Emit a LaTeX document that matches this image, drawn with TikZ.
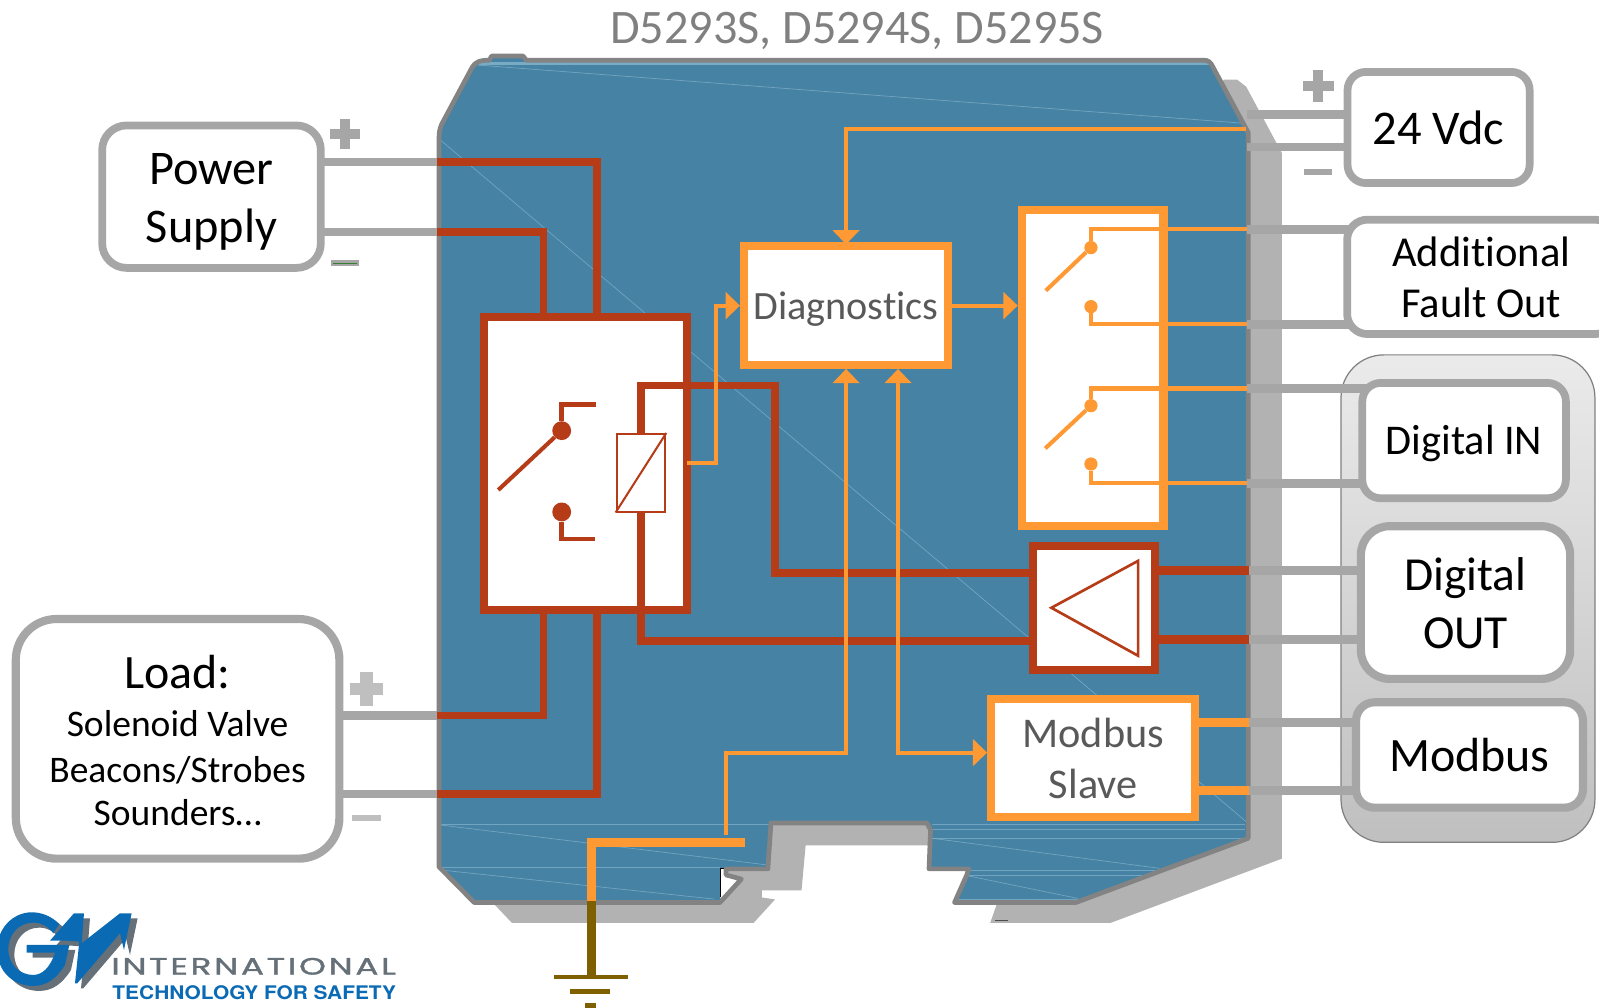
\documentclass[tikz,border=0pt]{standalone}
\usepackage{fontspec}
\usepackage{graphicx}
\setmainfont{Carlito}[Ligatures=NoCommon]
\newfontfamily\logofont[LetterSpace=8,FakeBold=1.2]{Poppins}
\newfontfamily\logobold{TeX Gyre Heros}
\usetikzlibrary{arrows.meta,calc}
\definecolor{bodyblue}{HTML}{4682A3}
\definecolor{bodyedge}{HTML}{838383}
\definecolor{shadowgray}{HTML}{B2B2B2}
\definecolor{wiregray}{HTML}{A6A6A6}
\definecolor{redwire}{HTML}{B53C17}
\definecolor{orangewire}{HTML}{FF9933}
\definecolor{earthbrown}{HTML}{7F6000}
\definecolor{labelgray}{HTML}{595959}
\definecolor{titlegray}{HTML}{808080}
\definecolor{glint}{HTML}{8FBCD4}
\definecolor{logoblue}{HTML}{0A6AB4}
\definecolor{logogray}{HTML}{667078}
\newcommand\boxtext[4]{\raisebox{#3pt}[0pt][0pt]{\fontsize{#1pt}{#2pt}\selectfont\begin{tabular}[t]{@{}c@{}}#4\end{tabular}}}
\newcommand\plusmark[5]{\fill[#3] (#1-#4/2,#2-#5/2) rectangle (#1+#4/2,#2+#5/2);\fill[#3] (#1-#5/2,#2-#4/2) rectangle (#1+#5/2,#2+#4/2);}
\newcommand\minusmark[4]{\fill[#3] (#1-#4/2,#2-2.8) rectangle (#1+#4/2,#2+2.8);}
\newcommand\logoshape{
  (178,72) .. controls (150,45) and (120,37) .. (95,37)
  .. controls (40,37) and (-10,85) .. (-8,150)
  .. controls (-8,215) and (40,258) .. (100,258)
  .. controls (140,258) and (170,235) .. (195,195)
  -- (208,135) -- (80,135) -- (80,158) -- (165,158)
  .. controls (150,205) and (125,225) .. (100,225)
  .. controls (60,225) and (25,195) .. (25,148)
  .. controls (25,105) and (55,68) .. (100,68)
  .. controls (125,68) and (145,80) .. (160,100) -- cycle
  (150,122) -- (222,40) -- (252,40) -- (245,130) -- (360,40) -- (395,40)
  -- (372,150) -- (360,100) -- (232,250) -- (225,250) -- (238,125) -- (195,122) -- cycle}
\tikzset{
  greybox/.style={draw=wiregray,line width=7.6pt,fill=white,rounded corners=#1,inner sep=0pt,text=black},
  orangebox/.style={draw=orangewire,line width=8pt,fill=white,inner sep=0pt,text=labelgray},
  redbox/.style={draw=redwire,line width=7.7pt,fill=white,inner sep=0pt},
  graywire/.style={draw=wiregray,line width=8.5pt,shorten >=-12pt},
  redw/.style={draw=redwire,line width=7.5pt,line cap=butt,line join=miter},
  redthin/.style={draw=redwire,line width=4.6pt,line join=miter},
  orw/.style={draw=orangewire,line width=4pt,line join=miter},
  orthick/.style={draw=orangewire,line width=9.3pt},
  earth/.style={draw=earthbrown,line width=8.5pt},
  orhead/.style={-{Triangle[length=14pt,width=26pt]}},
  reddot/.style={circle,fill=redwire,inner sep=0pt,minimum size=18.5pt},
  ordot/.style={circle,fill=orangewire,inner sep=0pt,minimum size=13pt},
  glintline/.style={draw=glint,line width=0.7pt,opacity=0.6},
}
\begin{document}
\begin{tikzpicture}[x=1pt,y=-1pt]
\useasboundingbox (0,0) rectangle (1568,988);
\node[text=titlegray,anchor=base,inner sep=0pt] (title) at (840.5,43) {\fontsize{47.2pt}{50pt}\selectfont D5293S, D5294S, D5295S};

% module shadow
\fill[shadowgray] (1200,78) -- (1213,78) -- (1222,85) -- (1257,150) -- (1257,842) -- (1089,905) -- (971,905) -- (978,885)
  -- (1000,880) -- (909,829) -- (790,829) -- (786,873) -- (747,873) -- (747,880) -- (760,882) -- (739,905) -- (502,905) -- (483,885)
  -- (700,860) -- (1190,100) -- cycle;
% module body
\path[fill=bodyblue] (430.5,137) -- (431,124) -- (466,61) -- (480,59) -- (482,55) -- (513,55) -- (516,59) -- (1180,59) -- (1188,65) -- (1224,130)
  -- (1224,822) -- (1055,885) -- (936,885) -- (948,858) -- (950,852) -- (911,852) -- (913,814) -- (909,807) -- (756,807) -- (754,852)
  -- (712,852) -- (712,858) -- (727,862) -- (706,885) -- (465,885) -- (430.5,850) -- cycle;
\draw[glint!70!bodyblue,line width=3pt] (470,62.5) -- (1186,62.5);
\foreach \a/\b in {{467,63.7}/{1220,120.9},{431.5,137}/{1222,805.7},{432,808.5}/{756,808.5},{914,808}/{1221,808},{432,809}/{751,848},{431,853}/{700,881.6},{432,851}/{706,851},{465,882.5}/{705,882.5},{914,813}/{1221,813},{914,822}/{1221,822},{914,822}/{1137,851.5},{952,853}/{1136,853},{949,858}/{1121,858},{950,859}/{1057,881},{938,881.5}/{1057,881.5}}
  {\draw[glintline] (\a) -- (\b);}
% notch wedge
\fill[white] (706.5,852) -- (711,852) -- (711,858) -- (725,862) -- (706.5,882) -- cycle;
\draw[black,line width=0.9pt] (712,851.5) -- (706,851.5) -- (706,880);
% module outline
\draw[bodyedge,line width=4.6pt,line join=round] (430.5,850) -- (430.5,137) .. controls (430.5,130) and (431,127) .. (433,122) -- (463,66) .. controls (466,61) and (470,59) .. (480,59) -- (482,55) -- (513,55) -- (516,59) -- (1180,59) .. controls (1185,59) and (1187,61) .. (1189,65) -- (1224,130)
  -- (1224,822) -- (1055,885) -- (936,885) -- (948,858) -- (950,852) -- (911,852) -- (912.5,814) -- (909,807) -- (756,807) -- (753,852)
  -- (712,852) -- (712,858) -- (727,862) -- (706,885) -- (465,885) -- cycle;
\draw[black!70,line width=1.2pt] (976,903) -- (988,903);

% shaded terminal panel
\shade[top color=black!8,bottom color=black!25,draw=black!50,line width=1.2pt,rounded corners=42pt] (1315,348) rectangle (1564,826);

% ports on the module
\coordinate (pL1) at (429,159);
\coordinate (pL2) at (429,227.5);
\coordinate (pL3) at (429,701.5);
\coordinate (pL4) at (429,778.5);
\coordinate (pV1) at (1223,112);
\coordinate (pV2) at (1223,144);
\coordinate (pV3) at (1222,126.6);
\coordinate (pF1) at (1223,224.8);
\coordinate (pF2) at (1223,318);
\coordinate (pI1) at (1223,381);
\coordinate (pI2) at (1223,474);
\coordinate (pO1) at (1225,559.6);
\coordinate (pO2) at (1225,626.8);
\coordinate (pM1) at (1225,708.6);
\coordinate (pM2) at (1225,775.4);

% grey terminal wires (under the boxes)
\coordinate (psE) at (314.6,0);
\coordinate (ldE) at (332.8,0);
\coordinate (vdW) at (1321.4,0);
\coordinate (adW) at (1321,0);
\coordinate (diW) at (1336,0);
\coordinate (doW) at (1334.5,0);
\coordinate (moW) at (1329.7,0);
\draw[graywire] (pL1) -- (psE |- pL1);
\draw[graywire] (pL2) -- (psE |- pL2);
\draw[graywire] (pL3) -- (ldE |- pL3);
\draw[graywire] (pL4) -- (ldE |- pL4);
\draw[graywire] (pV1) -- (vdW |- pV1);
\draw[graywire] (pV2) -- (vdW |- pV2);
\draw[graywire] (pF1) -- (adW |- pF1);
\draw[graywire] (pF2) -- (adW |- pF2);
\draw[graywire] (pI1) -- (diW |- pI1);
\draw[graywire] (pI2) -- (diW |- pI2);
\draw[graywire] (pO1) -- (doW |- pO1);
\draw[graywire] (pO2) -- (doW |- pO2);
\draw[graywire] (pM1) -- (moW |- pM1);
\draw[graywire] (pM2) -- (moW |- pM2);

% external boxes
\node[greybox=24pt,minimum width=214.4pt,minimum height=139.7pt] (ps) at (207.4,192.85) {\boxtext{47.4}{57.3}{12.15}{Power\\Supply}};
\node[greybox=40pt,line width=8pt,minimum width=317.3pt,minimum height=235pt] (load) at (174.15,724.5) {\boxtext{36.8}{44}{49.4}{{\fontsize{47pt}{44pt}\selectfont Load:}\\[3.2pt]Solenoid Valve\\[0.7pt]Beacons/Strobes\\[-1.5pt]Sounders…}};
\node[greybox=18pt,minimum width=178.6pt,minimum height=109pt] (vdc) at (1410.7,125) {\boxtext{47.5}{50}{-16.6}{24 Vdc}};
\node[greybox=20pt,minimum width=263pt,minimum height=112.2pt] (addout) at (1452.5,271.5) {\boxtext{41.8}{50.5}{10.5}{Additional\\Fault Out}};
\node[greybox=18pt,minimum width=199.6pt,minimum height=113.1pt] (digin) at (1435.7,432.05) {\boxtext{41.5}{50}{-14}{Digital IN}};
\node[greybox=28pt,line width=8pt,minimum width=205.2pt,minimum height=149.7pt] (digout) at (1437.1,590.85) {\boxtext{46.5}{57}{12.25}{Digital\\OUT}};
\node[greybox=18pt,line width=8pt,minimum width=222.5pt,minimum height=103.3pt] (modbus) at (1441,740.35) {\boxtext{47}{50}{-16.35}{Modbus}};

% polarity marks
\plusmark{338.3}{131.4}{wiregray}{30}{10}
\minusmark{338.3}{258}{wiregray}{27}
\draw[black!50!green!60!gray,line width=0.7pt] (327,258) -- (350,258);
\plusmark{1292.5}{84.3}{wiregray}{30.5}{10}
\minusmark{1292.5}{168.8}{wiregray}{28}
\plusmark{359.4}{675.6}{black!25}{33}{12}
\minusmark{359.4}{802}{black!25}{27.7}

% inner blocks
\node[redbox,minimum width=199.3pt,minimum height=287.7pt] (relay) at (574.15,454.65) {};
\node[orangebox,minimum width=200.1pt,minimum height=116.2pt] (diag) at (829.65,299.7) {\boxtext{39.4}{44}{-13.3}{Diagnostics}};
\node[orangebox,minimum width=139pt,minimum height=309.6pt] (sw) at (1071.5,360.8) {};
\node[redbox,line width=8pt,minimum width=120pt,minimum height=122pt] (amp) at (1073,596) {};
\node[orangebox,minimum width=200pt,minimum height=115.8pt] (slave) at (1072,743.5) {\boxtext{41.5}{49.8}{10.5}{Modbus\\Slave}};

% red field wiring
\coordinate (rA) at (585.6,0);
\coordinate (rB) at (533,0);
\draw[redw] (pL1) -| (rA |- relay.north);
\draw[redw] (pL2) -| (rB |- relay.north);
\draw[redw] (rB |- relay.south) |- (pL3);
\draw[redw] (rA |- relay.south) |- (pL4);
\draw[redw,line width=9pt] (amp.east |- pO1) -- (pO1);
\draw[redw,line width=9pt] (amp.east |- pO2) -- (pO2);

% coil
\node[draw=redwire,line width=2pt,fill=white,inner sep=0pt,minimum width=47.7pt,minimum height=76pt] (coil) at (628.5,463.6) {};
\draw[redwire,line width=2pt] (coil.south west) -- (coil.north east);
\coordinate (ampU) at (1009,561.6);
\coordinate (ampL) at (1009,628.5);
\draw[redw] (coil.north) -- ++(0,-46.6) -| (760,561.6) -- (ampU);
\draw[redw] (coil.south) |- (ampL);

% amplifier triangle
\draw[redwire,line width=2.6pt,line join=miter] (1031,596) -- (1116,550) -- (1116,643) -- cycle;

% relay contacts
\node[reddot] (ca) at (550.8,422.3) {};
\node[reddot] (cb) at (550.8,502) {};
\coordinate (caEnd) at (584.5,396.5);
\coordinate (cbEnd) at (583.5,528.6);
\coordinate (cPivot) at (488.6,480.5);
\draw[redthin] (ca) |- (caEnd);
\draw[redthin] (cb) |- (cbEnd);
\draw[redwire,line width=4pt] (cPivot) -- (ca);

% orange signals
\coordinate (topRun) at (829.65,126.6);
\draw[orw,orhead,shorten >=-2pt] (pV3) -- (topRun) -- (diag.north);
\coordinate (sense) at (673.3,454);
\draw[orw,orhead] (sense) -| (702,299.7) -- (diag.west);
\draw[orw,orhead] (diag.east) -- (sw.west |- diag.east);
\coordinate (gndTap) at (712,819);
\coordinate (x1) at (829.65,738);
\coordinate (x2) at (880.6,738);
\draw[orw,orhead] (gndTap) |- (x1) -- (x1 |- diag.south);
\draw[orw,{Triangle[length=14pt,width=26pt]}-{Triangle[length=14pt,width=26pt]}] (x2 |- diag.south) -- (x2) -- (slave.west |- x2);
\draw[orthick] (slave.east |- pM1) -- (pM1);
\draw[orthick] (slave.east |- pM2) -- (pM2);

% fault and digital contacts
\node[ordot] (fa) at (1069.8,242.8) {};
\node[ordot] (fb) at (1069.8,300.7) {};
\node[ordot] (ga) at (1069.8,397.8) {};
\node[ordot] (gb) at (1069.8,455) {};
\coordinate (fPivot) at (1025.5,285);
\coordinate (gPivot) at (1025,439.7);
\draw[orw] (pF1) -| (fa);
\draw[orw] (pF2) -| (fb);
\draw[orw] (pI1) -| (ga);
\draw[orw] (pI2) -| (gb);
\draw[orw] (fPivot) -- (fa);
\draw[orw] (gPivot) -- (ga);

% earth
\coordinate (gT) at (730.6,826);
\coordinate (gJ) at (579.7,826);
\coordinate (gB) at (579.7,884);
\coordinate (gE) at (579.7,956);
\draw[orthick] (gT) -- (gJ);
\draw[draw=orangewire,line width=8.5pt] (gJ) ++(0,-4.6) -- (gB);
\draw[earth] (gB) -- (gE);
\fill[earthbrown] (543.4,956) rectangle (616,960);
\fill[earthbrown] (559.4,969.6) rectangle (598.4,974.4);
\fill[earthbrown] (573.8,984) rectangle (584.4,988);

% logo
\begin{scope}[shift={(0,882.5)},x=0.3268pt,y=-0.3268pt]
  \begin{scope}[shift={(18,15)}]
    \fill[logogray] \logoshape;
  \end{scope}
  \fill[logoblue] \logoshape;
\end{scope}
\node[anchor=south west,inner sep=0pt,text=logogray] (logoA) at (109,956) {\resizebox{279pt}{16.3pt}{\logofont INTERNATIONAL}};
\node[anchor=south west,inner sep=0pt,text=logoblue] (logoB) at (110,980.6) {\resizebox{278pt}{13.6pt}{\logobold\bfseries TECHNOLOGY FOR SAFETY}};
\end{tikzpicture}
\end{document}
